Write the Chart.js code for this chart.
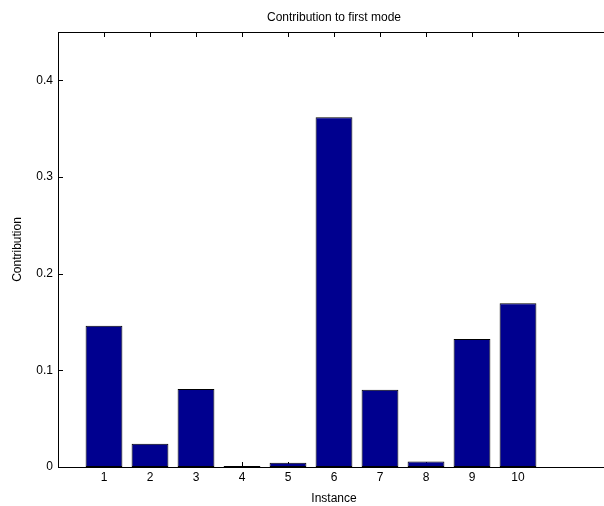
<!DOCTYPE html>
<html><head><meta charset="utf-8">
<script src="https://cdn.jsdelivr.net/npm/chart.js@4"></script>
<style>html,body{margin:0;padding:0;overflow:hidden;background:#fff;width:604px;height:506px}canvas{display:block}</style>
</head><body>
<canvas id="c" width="612" height="506"></canvas>
<script>
const categories = [1, 2, 3, 4, 5, 6, 7, 8, 9, 10];
const contributions = [0.146, 0.024, 0.0806, 0.001, 0.0045, 0.3618, 0.080, 0.0058, 0.1323, 0.1695];
const yTickValues = [0, 0.1, 0.2, 0.3, 0.4];
const xTickValues = categories;
const titleText = 'Contribution to first mode';
const xLabel = 'Instance';
const yLabel = 'Contribution';

Chart.defaults.font.family = '"Liberation Sans", Arial, Helvetica, sans-serif';
Chart.defaults.font.size = 12;
Chart.defaults.color = '#000';

const boxPlugin = {
  id: 'boxTicks',
  beforeDatasetsDraw(chart) {
    const {ctx, chartArea: a, scales: {x, y}} = chart;
    ctx.save();
    ctx.strokeStyle = '#000';
    ctx.lineWidth = 1;
    ctx.beginPath();
    xTickValues.forEach(v => {
      const px = Math.round(x.getPixelForValue(v)) + 0.5;
      ctx.moveTo(px, a.bottom); ctx.lineTo(px, a.bottom - 5);
      ctx.moveTo(px, a.top); ctx.lineTo(px, a.top + 5);
    });
    yTickValues.forEach(v => {
      const py = Math.round(y.getPixelForValue(v)) + 0.5;
      ctx.moveTo(a.left, py); ctx.lineTo(a.left + 5, py);
      ctx.moveTo(a.right, py); ctx.lineTo(a.right - 5, py);
    });
    ctx.stroke();
    ctx.restore();
  },
  afterDatasetsDraw(chart) {
    const {ctx, chartArea: a} = chart;
    ctx.save();
    ctx.strokeStyle = '#000';
    ctx.lineWidth = 1;
    ctx.strokeRect(a.left + 0.5, a.top + 0.5, a.right - a.left, a.bottom - a.top);
    ctx.restore();
  }
};

new Chart(document.getElementById('c'), {
  type: 'bar',
  data: {
    datasets: [{
      data: categories.map((c, i) => ({x: c, y: contributions[i]})),
      backgroundColor: 'rgb(0,0,143)',
      borderColor: '#000',
      borderWidth: 1,
      borderSkipped: false,
      barPercentage: 0.8,
      categoryPercentage: 1
    }]
  },
  options: {
    responsive: false,
    animation: false,
    devicePixelRatio: 1,
    layout: {padding: {left: 0, right: 2, top: 0, bottom: 0}},
    plugins: {
      legend: {display: false},
      tooltip: {enabled: false},
      title: {
        display: true,
        text: titleText,
        fullSize: false,
        font: {size: 12, weight: 'normal'},
        color: '#000',
        padding: {top: 10.8, bottom: 6.8}
      }
    },
    scales: {
      x: {
        type: 'linear',
        min: 0,
        max: 12,
        offset: false,
        grid: {display: false, drawTicks: false},
        border: {display: false},
        afterBuildTicks: s => { s.ticks = xTickValues.map(v => ({value: v})); },
        afterFit: s => { s.height = 39; },
        ticks: {padding: 3.3, maxRotation: 0, autoSkip: false, callback: v => String(v)},
        title: {display: true, text: xLabel, padding: {top: 0, bottom: 0}}
      },
      y: {
        min: 0,
        max: 0.45,
        grid: {display: false, drawTicks: false},
        border: {display: false},
        afterBuildTicks: s => { s.ticks = yTickValues.map(v => ({value: v})); },
        afterFit: s => { s.width = 58; },
        ticks: {padding: 5, callback: v => v === 0 ? '0' : v.toFixed(1)},
        title: {display: true, text: yLabel, padding: {top: 10.8, bottom: 0}}
      }
    }
  },
  plugins: [boxPlugin]
});
</script>
</body></html>
